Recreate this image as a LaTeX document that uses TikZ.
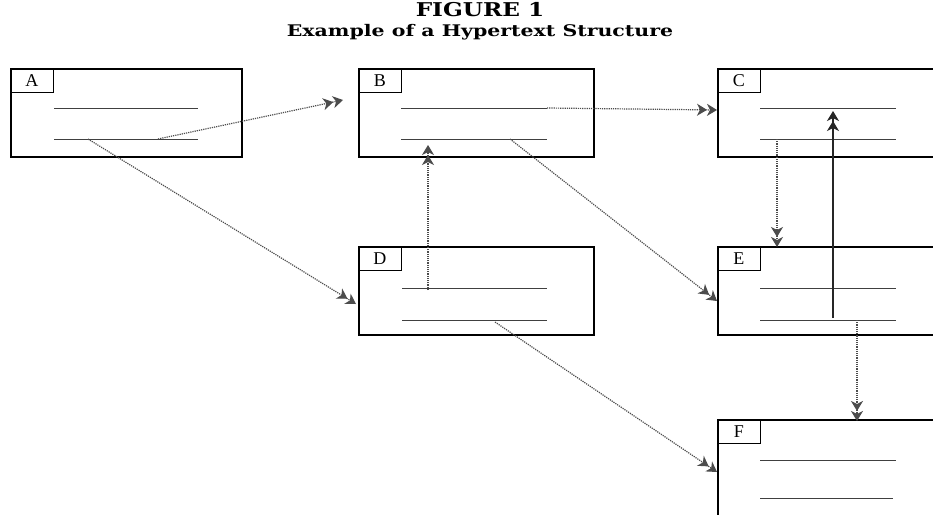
\documentclass[tikz,border=0pt]{standalone}
\usepackage{fontspec}
\setmainfont{DejaVu Serif}
\newfontfamily\labfont{Liberation Serif}
\usetikzlibrary{arrows.meta}
\tikzset{
  bigbox/.style={draw=black, line width=2.2pt, anchor=north west, inner sep=0pt, minimum height=88pt},
  labbox/.style={draw=black, line width=0.8pt, anchor=north west, inner sep=0pt, minimum width=43pt, minimum height=24pt, font=\labfont\fontsize{18}{18}\selectfont},
  inline/.style={draw=black!75, line width=0.9pt},
  tip/.style={-{Stealth[length=10pt,width=12pt,inset=3pt]Stealth[length=10pt,width=12pt,inset=3pt]}},
  link/.style={tip, draw=black!70, line width=1.2pt, densely dotted},
  solidlink/.style={tip, draw=black!85, line width=1.2pt},
}
\begin{document}
\begin{tikzpicture}[x=1pt,y=-1pt]
\useasboundingbox (0,0) rectangle (933,514);
\fill[white] (0,0) rectangle (933,514);
\node[font=\bfseries\fontsize{19}{19}\selectfont, xscale=1.22] (title) at (480,10) {FIGURE 1};
\node[font=\bfseries\fontsize{16}{16}\selectfont, xscale=1.28] (sub) at (480,32) {Example of a Hypertext Structure};
\begin{scope}
\clip (0,0) rectangle (933,514);
% boxes
\node[bigbox, minimum width=231pt] (A) at (10,68) {};
\node[bigbox, minimum width=235pt] (B) at (358,68) {};
\node[bigbox, minimum width=240pt] (C) at (717,68) {};
\node[bigbox, minimum width=235pt] (D) at (358,246) {};
\node[bigbox, minimum width=240pt] (E) at (717,246) {};
\node[bigbox, minimum width=240pt, minimum height=120pt] (F) at (717,419) {};
% labels
\node[labbox] (Al) at (A.north west) {A};
\node[labbox] (Bl) at (B.north west) {B};
\node[labbox] (Cl) at (C.north west) {C};
\node[labbox] (Dl) at (D.north west) {D};
\node[labbox] (El) at (E.north west) {E};
\node[labbox] (Fl) at (F.north west) {F};
\end{scope}
% inner lines
\coordinate (A1a) at (54,108); \coordinate (A1b) at (198,108);
\coordinate (A2a) at (54,139); \coordinate (A2b) at (198,139);
\coordinate (B1a) at (401,108); \coordinate (B1b) at (547,108);
\coordinate (B2a) at (401,139); \coordinate (B2b) at (547,139);
\coordinate (C1a) at (760,108); \coordinate (C1b) at (896,108);
\coordinate (C2a) at (760,139); \coordinate (C2b) at (896,139);
\coordinate (D1a) at (402,288); \coordinate (D1b) at (547,288);
\coordinate (D2a) at (402,320); \coordinate (D2b) at (547,320);
\coordinate (E1a) at (760,288); \coordinate (E1b) at (896,288);
\coordinate (E2a) at (760,320); \coordinate (E2b) at (896,320);
\coordinate (F1a) at (760,460); \coordinate (F1b) at (896,460);
\coordinate (F2a) at (760,498); \coordinate (F2b) at (893,498);
\foreach \n in {A1,A2,B1,B2,C1,C2,D1,D2,E1,E2,F1,F2}
  \draw[inline] (\n a) -- (\n b);
% connector ends
\coordinate (sA1) at (158,139);
\coordinate (eA1) at (343,100);
\coordinate (sA2) at (88,139);
\coordinate (eA2) at (356,304);
\coordinate (sB1) at (547,108);
\coordinate (eB1) at (717,110);
\coordinate (sD1) at (428,290);
\coordinate (eD1) at (428,145);
\coordinate (sB2) at (510,139);
\coordinate (eB2) at (717,301);
\coordinate (sC2) at (777,139);
\coordinate (eC2) at (777,247);
\coordinate (sE2) at (833,318);
\coordinate (eE2) at (833,111);
\coordinate (sE2b) at (857,320);
\coordinate (eE2b) at (857,421);
\coordinate (sD2) at (495,322);
\coordinate (eD2) at (717,472);
\draw[link] (sA1) -- (eA1);
\draw[link] (sA2) -- (eA2);
\draw[link] (sB1) -- (eB1);
\draw[link] (sD1) -- (eD1);
\draw[link] (sB2) -- (eB2);
\draw[link] (sC2) -- (eC2);
\draw[solidlink] (sE2) -- (eE2);
\draw[link] (sE2b) -- (eE2b);
\draw[link] (sD2) -- (eD2);
\end{tikzpicture}
\end{document}
